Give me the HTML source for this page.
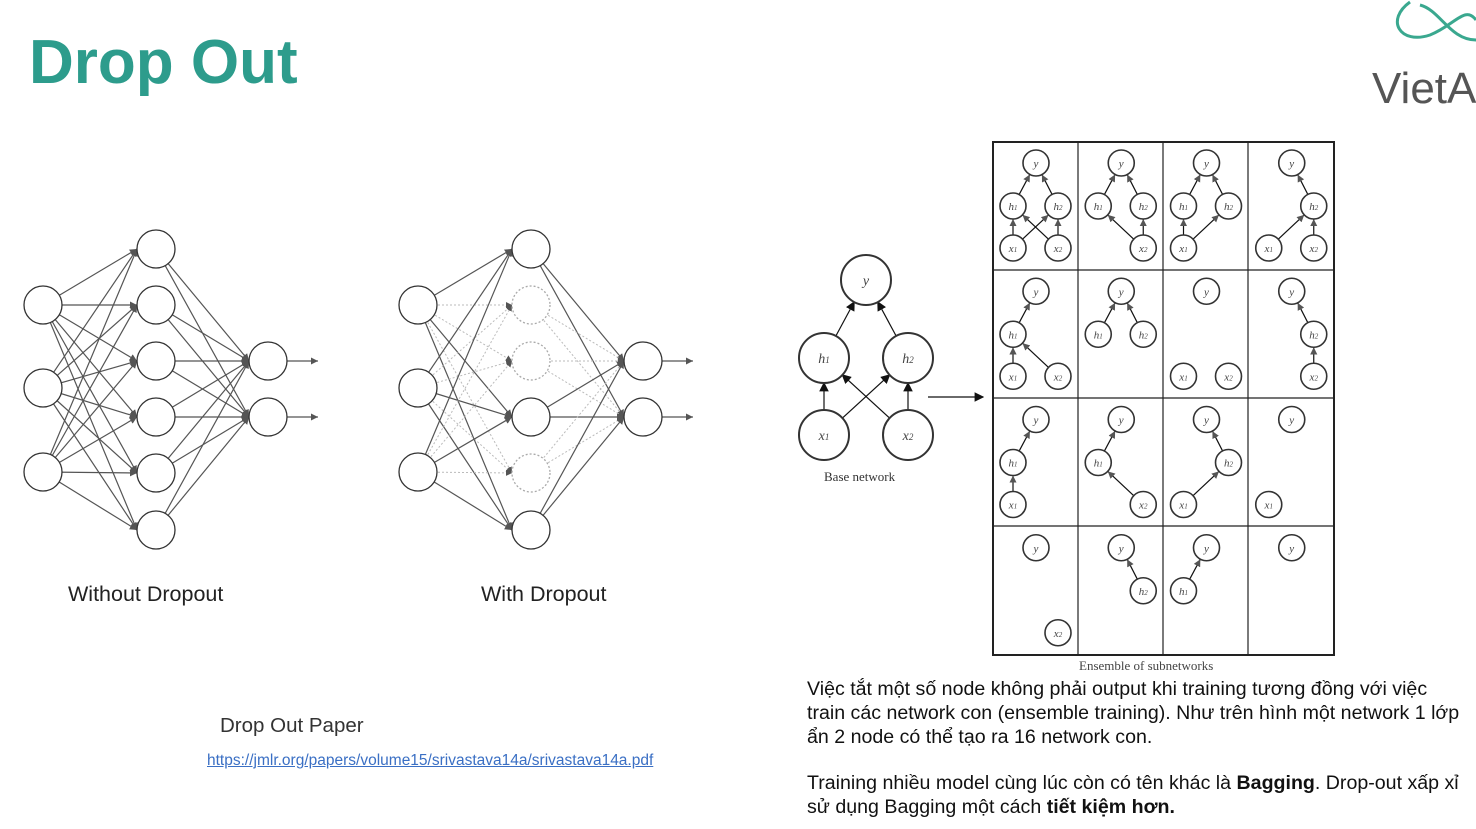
<!DOCTYPE html>
<html><head><meta charset="utf-8"><style>
body{margin:0;width:1476px;height:829px;background:#fff;position:relative;overflow:hidden;font-family:"Liberation Sans",sans-serif}
.t{position:absolute;white-space:nowrap}
</style></head><body>
<div class="t" style="left:29px;top:27px;font-size:62px;font-weight:bold;color:#2d9c8c">Drop Out</div>
<div class="t" style="left:1372px;top:64px;font-size:44px;color:#555">VietA</div>
<svg class="t" style="left:1380px;top:0" width="96" height="50"><path d="M30 2 C5 20 20 45 50 35 C75 25 85 5 96 20 M40 5 C60 10 70 40 96 40" fill="none" stroke="#3aa88f" stroke-width="3"/></svg>
<div class="t" style="left:68px;top:582px;font-size:21.5px;color:#222">Without Dropout</div>
<div class="t" style="left:481px;top:582px;font-size:21.5px;color:#222">With Dropout</div>
<div class="t" style="left:220px;top:714px;font-size:20.5px;color:#333">Drop Out Paper</div>
<div class="t" style="left:207px;top:752px;font-size:15.5px;color:#3a6fc4;text-decoration:underline">https://jmlr.org/papers/volume15/srivastava14a/srivastava14a.pdf</div>
<div class="t" style="left:824px;top:469px;font-size:13px;font-family:'Liberation Serif',serif;color:#333">Base network</div>
<div class="t" style="left:1079px;top:658px;font-size:13px;font-family:'Liberation Serif',serif;color:#444">Ensemble of subnetworks</div>
<div class="t" style="left:807px;top:677px;font-size:19.6px;line-height:24px;color:#111">Việc tắt một số node không phải output khi training tương đồng với việc<br>train các network con (ensemble training). Như trên hình một network 1 lớp<br>ẩn 2 node có thể tạo ra 16 network con.</div>
<div class="t" style="left:807px;top:771px;font-size:19.6px;line-height:24px;color:#111">Training nhiều model cùng lúc còn có tên khác là <b>Bagging</b>. Drop-out xấp xỉ<br>sử dụng Bagging một cách <b>tiết kiệm hơn.</b></div>
<svg id="s" class="t" style="left:0;top:0" width="1476" height="829">
<defs><marker id="a" markerWidth="8" markerHeight="8" refX="7" refY="4" orient="auto"><path d="M0 0L8 4L0 8z" fill="#111"/></marker>
<marker id="b" markerWidth="6" markerHeight="6" refX="6" refY="3" orient="auto"><path d="M0 0L6 3L0 6z" fill="#555"/></marker></defs>
<g id="g"></g></svg>
<script>
var g=document.getElementById('g'),h='';
function L(x1,y1,x2,y2,st,m){h+='<line x1="'+x1+'" y1="'+y1+'" x2="'+x2+'" y2="'+y2+'" stroke="'+(st||'#444')+'" stroke-width="1.2"'+(m?' marker-end="url(#'+m+')"':'')+'/>';}
function C(x,y,r,d,w){h+='<circle cx="'+x+'" cy="'+y+'" r="'+r+'" fill="#fff" stroke="'+(d?'#aaa':'#333')+'" stroke-width="'+(w||1.3)+'"'+(d?' stroke-dasharray="2,2"':'')+'/>';}
function T(x,y,s,f){h+='<text x="'+x+'" y="'+y+'" font-family="Liberation Serif,serif" font-style="italic" font-size="'+f+'" text-anchor="middle" fill="#444">'+s+'</text>';}
[0,375].forEach(function(o,k){
 var I=[305,388,472],H=[249,305,361,417,473,530],O=[361,417],dh=k?[1,2,4]:[];
 I.forEach(function(a,i){H.forEach(function(b,j){var d=dh.indexOf(j)>=0;L(43+o,a,156+o-19,b,d?'#bbb':'#555','b');if(d)h=h.replace(/stroke="#bbb" stroke-width="1.2"([^>]*)\/>$/,'stroke="#bbb" stroke-width="1" stroke-dasharray="2,2"$1/>');});});
 H.forEach(function(b,j){O.forEach(function(c){var d=dh.indexOf(j)>=0;L(156+o,b,268+o-19,c,d?'#bbb':'#555','b');if(d)h=h.replace(/stroke="#bbb" stroke-width="1.2"([^>]*)\/>$/,'stroke="#bbb" stroke-width="1" stroke-dasharray="2,2"$1/>');});});
 O.forEach(function(c){L(268+o+19,c,318+o,c,'#555','b');});
 I.forEach(function(a){C(43+o,a,19);});H.forEach(function(b,j){C(156+o,b,19,dh.indexOf(j)>=0);});O.forEach(function(c){C(268+o,c,19);});
});
var P={y:[866,280],h1:[824,358],h2:[908,358],x1:[824,435],x2:[908,435]};
function E(a,b,r,m){var dx=b[0]-a[0],dy=b[1]-a[1],l=Math.hypot(dx,dy);L(a[0]+dx/l*r,a[1]+dy/l*r,b[0]-dx/l*r,b[1]-dy/l*r,'#111',m);}
[['x1','h1'],['x1','h2'],['x2','h1'],['x2','h2'],['h1','y'],['h2','y']].forEach(function(e){E(P[e[0]],P[e[1]],25,'a');});
var lb={y:'y',h1:'h<tspan font-size="9">1</tspan>',h2:'h<tspan font-size="9">2</tspan>',x1:'x<tspan font-size="9">1</tspan>',x2:'x<tspan font-size="9">2</tspan>'};
for(var k in P){C(P[k][0],P[k][1],25,0,2);T(P[k][0],P[k][1]+5,lb[k],14);}
L(928,397,983,397,'#111','a');
h+='<rect x="993" y="142" width="341" height="513" fill="none" stroke="#222" stroke-width="2"/>';
[1078,1163,1248].forEach(function(x){L(x,142,x,655,'#222');});
[270,398,526].forEach(function(y){L(993,y,1334,y,'#222');});
var cells=[
['y h1 h2 x1 x2','x1h1 x1h2 x2h1 x2h2 h1y h2y'],['y h1 h2 x2','x2h1 x2h2 h1y h2y'],['y h1 h2 x1','x1h1 x1h2 h1y h2y'],['y h2 x1 x2','x1h2 x2h2 h2y'],
['y h1 x1 x2','x1h1 x2h1 h1y'],['y h1 h2','h1y h2y'],['y x1 x2',''],['y h2 x2','x2h2 h2y'],
['y h1 x1','x1h1 h1y'],['y h1 x2','x2h1 h1y'],['y h2 x1','x1h2 h2y'],['y x1',''],
['y x2',''],['y h2','h2y'],['y h1','h1y'],['y','']];
var off={y:[43,21],h1:[20,64],h2:[65,64],x1:[20,106],x2:[65,106]};
cells.forEach(function(c,i){var cx=993+(i%4)*85.25,cy=142+Math.floor(i/4)*128.25;
 function p(n){return [cx+off[n][0],cy+off[n][1]];}
 c[1].split(' ').filter(Boolean).forEach(function(e){E(p(e.slice(0,2)),p(e.slice(2)),13,'b');});
 c[0].split(' ').forEach(function(n){var q=p(n);C(q[0],q[1],13,0,1.6);T(q[0],q[1]+4,lb[n].replace(/9/g,'7'),11);});
});
g.innerHTML=h;
</script>
</body></html>
